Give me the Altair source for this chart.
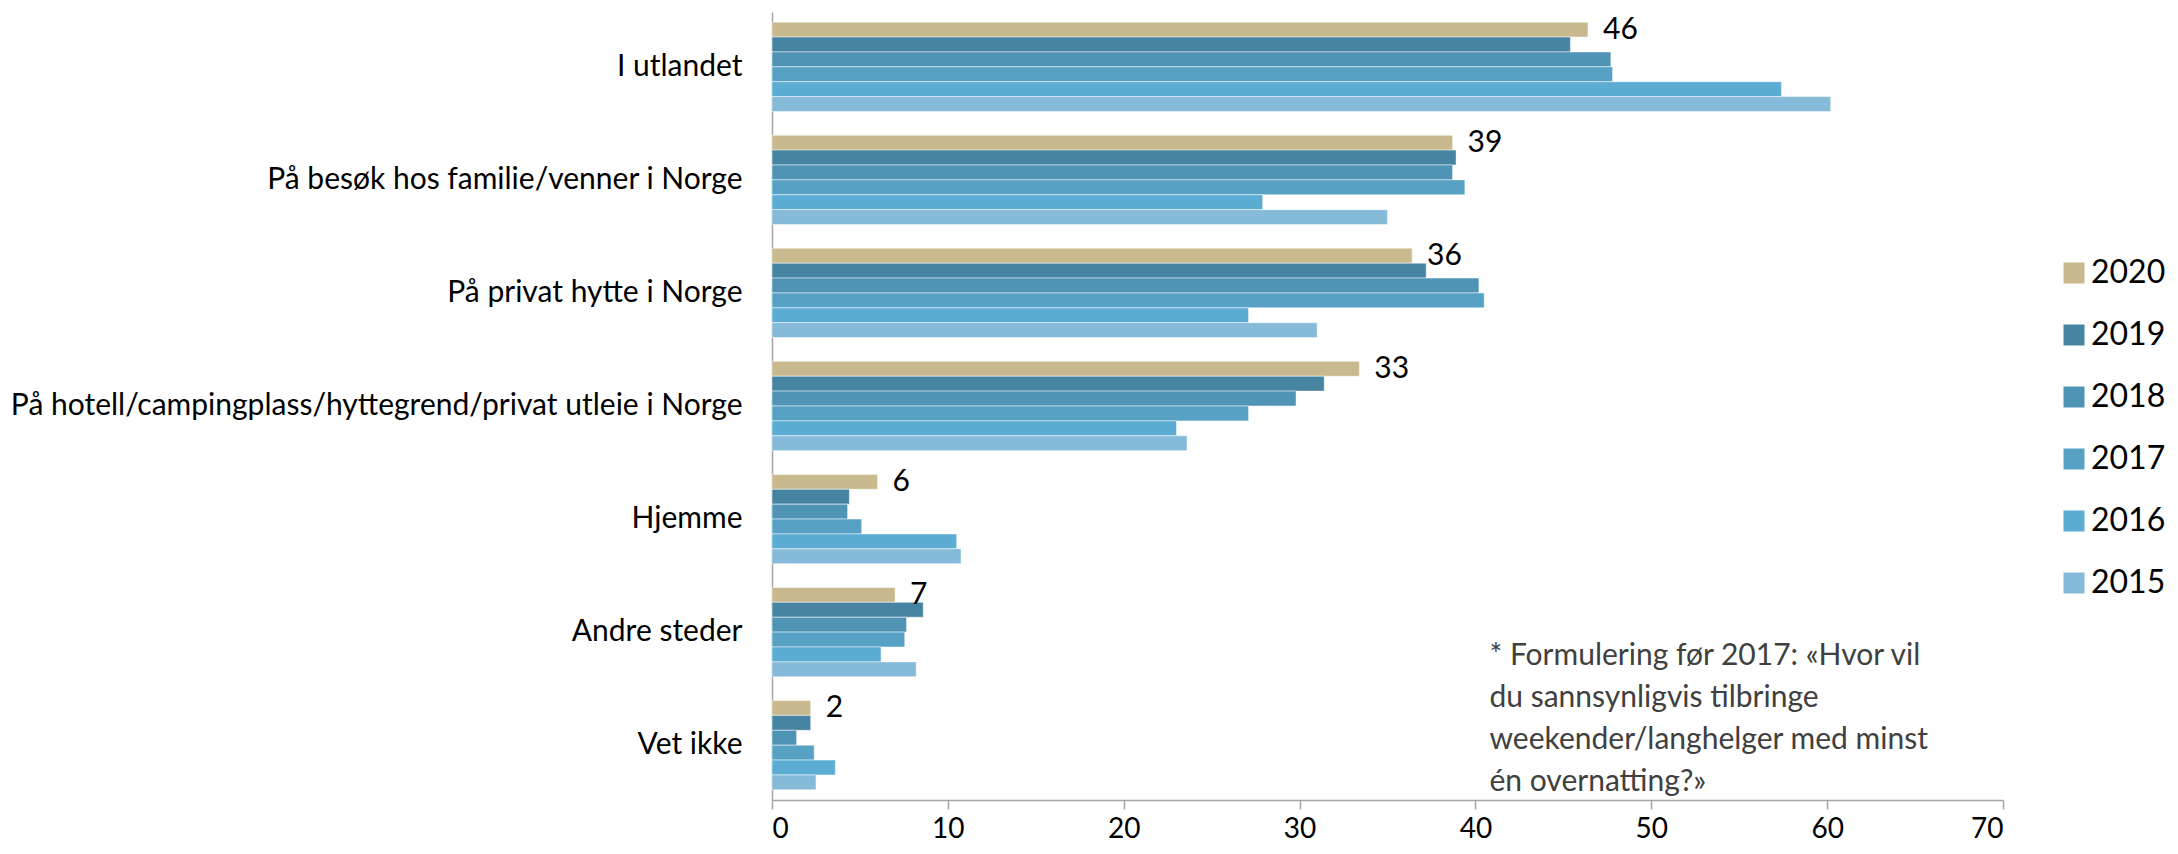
import altair as alt
import pandas as pd

categories = [
    "I utlandet",
    "På besøk hos familie/venner i Norge",
    "På privat hytte i Norge",
    "På hotell/campingplass/hyttegrend/privat utleie i Norge",
    "Hjemme",
    "Andre steder",
    "Vet ikke",
]
years = ["2020", "2019", "2018", "2017", "2016", "2015"]
colors = ["#C8BA8E", "#4784A2", "#4F94B4", "#57A2C4", "#5DACD3", "#86BAD9"]

v2020 = [46.4, 38.7, 36.4, 33.4, 6.0, 7.0, 2.2]
v2019 = [45.4, 38.9, 37.2, 31.4, 4.4, 8.6, 2.2]
v2018 = [47.7, 38.7, 40.2, 29.8, 4.3, 7.65, 1.4]
v2017 = [47.8, 39.4, 40.5, 27.1, 5.1, 7.55, 2.4]
v2016 = [57.4, 27.9, 27.1, 23.0, 10.5, 6.2, 3.6]
v2015 = [60.2, 35.0, 31.0, 23.6, 10.75, 8.2, 2.5]

note_lines = [
    "* Formulering før 2017: «Hvor vil",
    "du sannsynligvis tilbringe",
    "weekender/langhelger med minst",
    "én overnatting?»",
]

series = dict(zip(years, [v2020, v2019, v2018, v2017, v2016, v2015]))
rows = []
for y, vals in series.items():
    for c, v in zip(categories, vals):
        rows.append({"kategori": c, "år": y, "verdi": v, "etikett": str(round(v))})
df = pd.DataFrame(rows)

FONT = "Lato"

x_enc = alt.X(
    "verdi:Q",
    scale=alt.Scale(domain=[0, 70], nice=False),
    axis=alt.Axis(
        values=[0, 10, 20, 30, 40, 50, 60, 70],
        title=None,
        grid=False,
        domainColor="#A6A6A6",
        domainWidth=1.5,
        tickColor="#A6A6A6",
        tickWidth=1.5,
        tickSize=9,
        labelFontSize=28,
        labelFont=FONT,
        labelColor="#000000",
        labelPadding=6,
    ),
)
y_enc = alt.Y(
    "kategori:N",
    sort=categories,
    scale=alt.Scale(paddingInner=0.21, paddingOuter=0.09),
    axis=alt.Axis(
        title=None,
        ticks=False,
        domainColor="#A6A6A6",
        domainWidth=1.5,
        labelFontSize=30,
        labelFont=FONT,
        labelColor="#000000",
        labelPadding=30,
        labelLimit=1000,
    ),
)
yoff = alt.YOffset("år:N", sort=years, scale=alt.Scale(domain=years))

bars = alt.Chart(df).mark_bar(stroke="white", strokeWidth=0.8, strokeOpacity=0.6).encode(
    x=x_enc,
    y=y_enc,
    yOffset=yoff,
    color=alt.Color(
        "år:N",
        sort=years,
        scale=alt.Scale(domain=years, range=colors),
        legend=alt.Legend(
            title=None,
            orient="none",
            legendX=1286,
            legendY=245,
            symbolType="square",
            symbolSize=441,
            symbolStrokeWidth=0,
            labelFontSize=32,
            labelFont=FONT,
            labelColor="#000000",
            labelOffset=1,
            rowPadding=30,
        ),
    ),
)

labels = alt.Chart(df[df["år"] == "2020"]).mark_text(
    align="left", baseline="middle", dx=15, fontSize=30, font=FONT, color="#000000"
).encode(
    x="verdi:Q",
    y=alt.Y("kategori:N", sort=categories),
    yOffset=yoff,
    text="etikett:N",
)

note = alt.Chart(pd.DataFrame({"t": [note_lines]})).mark_text(
    align="left", baseline="top", fontSize=30, font=FONT, color="#404040", lineHeight=42
).encode(
    x=alt.datum(40.8),
    y=alt.value(629),
    text="t",
)

chart = alt.layer(bars, labels, note).properties(
    width=1231,
    height=788,
    autosize=alt.AutoSizeParams(type="none"),
    padding={"left": 764, "top": 4, "right": 167, "bottom": 46},
).configure_view(stroke=None)

chart.save("out.html", embed_options={"renderer": "svg", "actions": False})
